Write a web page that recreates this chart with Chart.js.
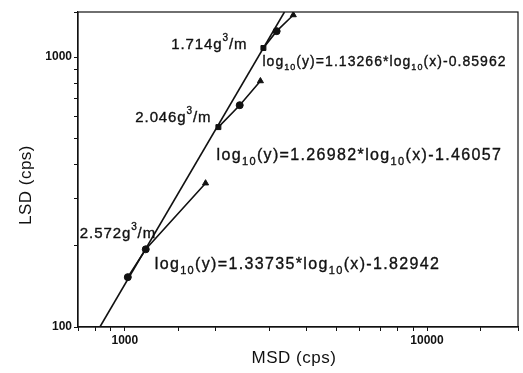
<!DOCTYPE html>
<html>
<head>
<meta charset="utf-8">
<script src="https://cdn.jsdelivr.net/npm/chart.js@4/dist/chart.umd.min.js"></script>
<style>
  body { margin: 0; background: #fff; }
  #wrap { width: 523px; height: 373px; }
</style>
</head>
<body>
<div id="wrap"><canvas id="lsdChart" width="523" height="373"></canvas></div>
<script>
// MSD / LSD pairs for each density (cps)
const msd1714 = [2875, 3180, 3610];
const lsd1714 = [1080, 1247, 1431];
const msd2046 = [2040, 2400, 2810];
const lsd2046 = [550, 663, 815];
const msd2572 = [1023, 1173, 1850];
const lsd2572 = [153, 194, 341];
// long straight line through the lower points
const envMsd = [827, 3375];
const envLsd = [100, 1468];
const markerStyles = ['rect', 'circle', 'triangle'];
const markerStyles2572 = ['circle', 'circle', 'triangle'];

const xTickLabels = [1000, 10000];
const yTickLabels = [100, 1000];
const xTitle = 'MSD (cps)';
const yTitle = 'LSD (cps)';

// text notes, "_" = subscript, "^" = superscript
const noteTexts = ['1.714g^3/m', '2.046g^3/m', '2.572g^3/m',
  'log_10(y)=1.13266*log_10(x)-0.85962',
  'log_10(y)=1.26982*log_10(x)-1.46057',
  'log_10(y)=1.33735*log_10(x)-1.82942'];
const noteX = [2545, 1936, 710, 2853, 2012, 1256];
const noteY = [1107, 594, 221, 957, 433, 170];
const noteAlign = ['right', 'right', 'left', 'left', 'left', 'left'];
// font size / letter spacing per note
const noteSize = [15, 15, 15, 14, 16, 16];
const noteGap = [0.9, 0.9, 0.9, 1.05, 1.35, 1.35];

const ink = '#111';
const fam = '"Liberation Sans", Arial, sans-serif';

function pts(xs, ys) {
  return xs.map((x, i) => ({ x: x, y: ys[i] }));
}

function series(xs, ys, styles) {
  return {
    data: pts(xs, ys),
    borderColor: ink,
    backgroundColor: ink,
    borderWidth: 1.6,
    pointStyle: styles,
    pointRadius: 3.5,
    pointBorderWidth: 1,
    showLine: true,
    tension: 0
  };
}

function drawRich(ctx, str, x, y, align, size) {
  const parts = str.split(/(_\d+|\^\d+)/).filter(p => p.length);
  const big = size + 'px ' + fam;
  const small = Math.round(size * 0.67) + 'px ' + fam;
  const isMark = p => p[0] === '_' || p[0] === '^';
  let total = 0;
  parts.forEach(p => {
    ctx.font = isMark(p) ? small : big;
    total += ctx.measureText(isMark(p) ? p.slice(1) : p).width;
  });
  let cx = align === 'right' ? x - total : x;
  ctx.textBaseline = 'middle';
  ctx.textAlign = 'left';
  parts.forEach(p => {
    let t = p, dy = 0;
    if (p[0] === '_') { t = p.slice(1); dy = size * 0.4; ctx.font = small; }
    else if (p[0] === '^') { t = p.slice(1); dy = -size * 0.47; ctx.font = small; }
    else ctx.font = big;
    ctx.fillText(t, cx, y + dy);
    // a little extra stroke to mimic the heavy scanned print
    ctx.strokeText(t, cx, y + dy);
    cx += ctx.measureText(t).width;
  });
}

const notesPlugin = {
  id: 'notes',
  afterDraw(chart) {
    const { ctx, chartArea: a, scales } = chart;
    ctx.save();
    ctx.strokeStyle = ink;
    ctx.lineWidth = 1.2;
    ctx.strokeRect(a.left, a.top, a.right - a.left, a.bottom - a.top);
    ctx.fillStyle = ink;
    ctx.lineWidth = 0.35;
    noteTexts.forEach((t, i) => {
      ctx.letterSpacing = noteGap[i] + 'px';
      drawRich(ctx, t, scales.x.getPixelForValue(noteX[i]), scales.y.getPixelForValue(noteY[i]), noteAlign[i], noteSize[i]);
    });
    // axis titles
    ctx.letterSpacing = '0.5px';
    ctx.font = '17px ' + fam;
    ctx.textAlign = 'center';
    ctx.textBaseline = 'middle';
    ctx.fillText(xTitle, (a.left + a.right) / 2 - 4, 358);
    ctx.translate(26, 185);
    ctx.rotate(-Math.PI / 2);
    ctx.fillText(yTitle, 0, 0);
    ctx.restore();
  }
};

const tickFont = { family: fam, size: 12, weight: 'bold' };

new Chart(document.getElementById('lsdChart'), {
  type: 'scatter',
  data: {
    datasets: [
      series(msd1714, lsd1714, markerStyles),
      series(msd2046, lsd2046, markerStyles),
      series(msd2572, lsd2572, markerStyles2572),
      {
        data: pts(envMsd, envLsd),
        borderColor: ink,
        borderWidth: 1.6,
        pointRadius: 0,
        showLine: true
      }
    ]
  },
  options: {
    responsive: false,
    animation: false,
    layout: { padding: { left: 0, right: 4, top: 12, bottom: 0 } },
    plugins: { legend: { display: false }, tooltip: { enabled: false } },
    scales: {
      x: {
        type: 'logarithmic',
        min: 700,
        max: 20000,
        grid: { drawOnChartArea: false, color: ink, tickLength: 4 },
        border: { color: ink, width: 1.2 },
        ticks: {
          color: ink,
          font: tickFont,
          autoSkip: false,
          maxRotation: 0,
          padding: 2,
          callback: v => xTickLabels.includes(v) ? String(v) : ''
        },
        afterFit: s => { s.height = 46; }
      },
      y: {
        type: 'logarithmic',
        min: 100,
        max: 1468,
        grid: { drawOnChartArea: false, color: ink, tickLength: 4 },
        border: { color: ink, width: 1.2 },
        ticks: {
          color: ink,
          font: tickFont,
          autoSkip: false,
          padding: 2,
          callback: v => yTickLabels.includes(v) ? String(v) : ''
        },
        afterFit: s => { s.width = 78; }
      }
    }
  },
  plugins: [notesPlugin]
});
</script>
</body>
</html>
